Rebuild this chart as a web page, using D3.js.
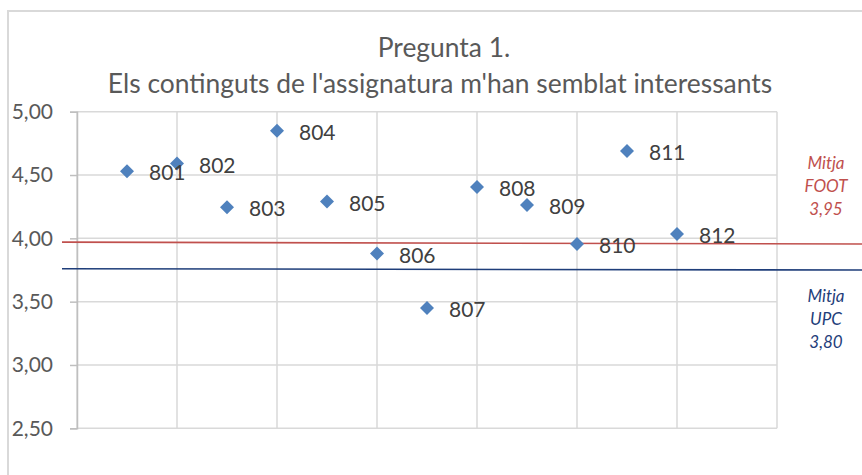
<!DOCTYPE html>
<html>
<head>
<meta charset="utf-8">
<script src="https://cdn.jsdelivr.net/npm/d3@7"></script>
<style>
  body { margin: 0; background: #fff; }
  text { font-family: Lato, "Open Sans", sans-serif; }
</style>
</head>
<body>
<script>
'use strict';

var width = 862;
var height = 475;

// data
var groups = ['801', '802', '803', '804', '805', '806', '807', '808', '809', '810', '811', '812'];
var groupX = [1, 2, 3, 4, 5, 6, 7, 8, 9, 10, 11, 12];
var scores = [4.53, 4.59, 4.245, 4.85, 4.29, 3.88, 3.45, 4.405, 4.263, 3.955, 4.69, 4.034];
var yTicks = [2.5, 3, 3.5, 4, 4.5, 5];
var xGrid = [0, 2, 4, 6, 8, 10, 12, 14];
var footLine = [[-0.3, 3.97], [15.7, 3.955]];
var upcLine = [[-0.3, 3.76], [15.7, 3.75]];
var footLabel = ['Mitja', 'FOOT', '3,95'];
var upcLabel = ['Mitja', 'UPC', '3,80'];

var svg = d3.select('body').append('svg').attr('width', width).attr('height', height);

// chart frame
svg.append('path').attr('d', 'M8,' + height + 'V11H' + width)
  .attr('fill', 'none').attr('stroke', '#d9d9d9').attr('stroke-width', 2);

var x = d3.scaleLinear().domain([0, 14]).range([77, 777]);
var y = d3.scaleLinear().domain([2.5, 5]).range([428.3, 111.7]);

var fmt = function (v) { return d3.format('.2f')(v).replace('.', ','); };

// gridlines
svg.append('g').selectAll('line').data(yTicks).enter().append('line')
  .attr('x1', x(0)).attr('x2', x(14))
  .attr('y1', function (d) { return y(d); }).attr('y2', function (d) { return y(d); })
  .attr('stroke', '#d9d9d9').attr('stroke-width', 1.5);

svg.append('g').selectAll('line').data(xGrid).enter().append('line')
  .attr('x1', function (d) { return x(d); }).attr('x2', function (d) { return x(d); })
  .attr('y1', y(5)).attr('y2', y(2.5))
  .attr('stroke', '#d9d9d9').attr('stroke-width', 1.5);

// y axis
var yAxis = d3.axisLeft(y).tickValues(yTicks).tickFormat(fmt).tickSize(7).tickPadding(17);
var ya = svg.append('g').attr('transform', 'translate(' + x(0) + ',0)').call(yAxis);
ya.select('.domain').attr('stroke', '#bfbfbf').attr('stroke-width', 1.5);
ya.selectAll('.tick line').attr('stroke', '#bfbfbf').attr('stroke-width', 1.5);
ya.selectAll('.tick text').attr('fill', '#595959').style('font-size', '21px')
  .style('font-family', 'Lato, "Open Sans", sans-serif');

// title
var title = svg.append('text').attr('text-anchor', 'middle').attr('fill', '#595959')
  .style('font-size', '26.4px');
title.append('tspan').attr('x', 444).attr('y', 57).text('Pregunta 1.');
title.append('tspan').attr('x', 440).attr('y', 93).text("Els continguts de l'assignatura m'han semblat interessants");

// mean lines
var line = d3.line().x(function (d) { return x(d[0]); }).y(function (d) { return y(d[1]); });
svg.append('path').datum(footLine).attr('d', line).attr('fill', 'none')
  .attr('stroke', '#c0504d').attr('stroke-width', 1.6);
svg.append('path').datum(upcLine).attr('d', line).attr('fill', 'none')
  .attr('stroke', '#1f3e7a').attr('stroke-width', 1.6);

// points
var pts = groups.map(function (g, i) { return { name: g, x: groupX[i], v: scores[i] }; });

svg.append('g').selectAll('path').data(pts).enter().append('path')
  .attr('d', d3.symbol().type(d3.symbolSquare).size(98))
  .attr('transform', function (d) { return 'translate(' + x(d.x) + ',' + y(d.v) + ') rotate(45)'; })
  .attr('fill', '#4f81bd');

svg.append('g').selectAll('text').data(pts).enter().append('text')
  .attr('x', function (d) { return x(d.x) + 22; })
  .attr('y', function (d) { return y(d.v) + 9; })
  .attr('fill', '#404040').style('font-size', '21px')
  .text(function (d) { return d.name; });

// legend labels on the right
svg.append('g').selectAll('text').data(footLabel).enter().append('text')
  .attr('x', 826).attr('y', function (d, i) { return 169 + i * 23; })
  .attr('text-anchor', 'middle').attr('fill', '#c0504d')
  .style('font-size', '17px').style('font-style', 'italic')
  .text(function (d) { return d; });

svg.append('g').selectAll('text').data(upcLabel).enter().append('text')
  .attr('x', 826).attr('y', function (d, i) { return 302 + i * 23; })
  .attr('text-anchor', 'middle').attr('fill', '#1f3e7a')
  .style('font-size', '17px').style('font-style', 'italic')
  .text(function (d) { return d; });
</script>
</body>
</html>
